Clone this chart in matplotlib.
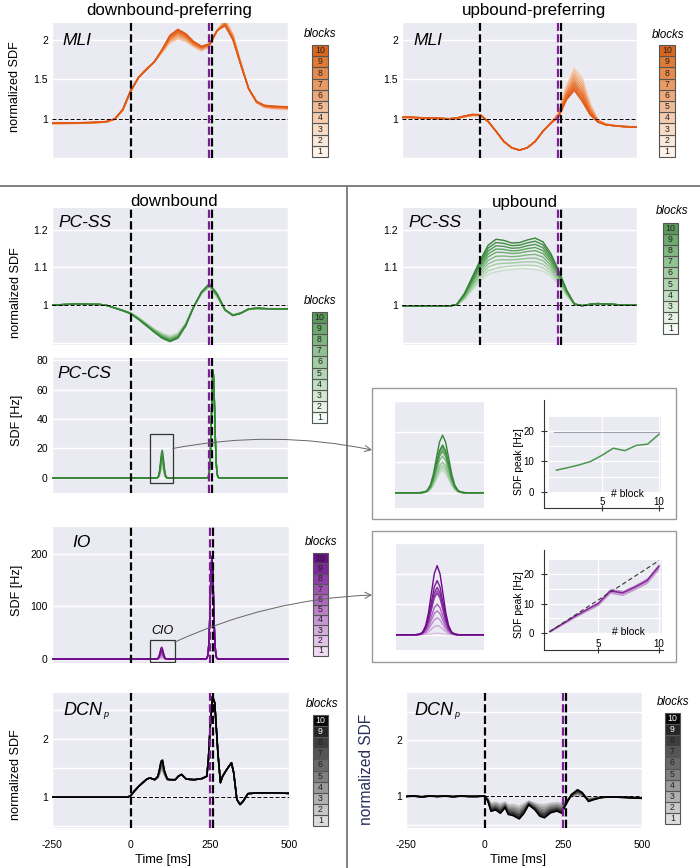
import matplotlib
matplotlib.use("Agg")
import matplotlib.pyplot as plt
from matplotlib.patches import Rectangle, ConnectionPatch
from matplotlib.lines import Line2D

plt.rcParams['font.family'] = ['Liberation Sans', 'DejaVu Sans']

# ------------------------------------------------------------------ data
blocks = [1, 2, 3, 4, 5, 6, 7, 8, 9, 10]
block_mix = [0.0, 0.12, 0.24, 0.36, 0.48, 0.6, 0.7, 0.8, 0.9, 1.0]
time_ticks = [-250, 0, 250, 500]
event_times = [0, 249, 259]

t25 = [-250, -225, -200, -175, -150, -125, -100, -75, -50, -25, 0, 25, 50, 75, 100,
       125, 150, 175, 200, 225, 250, 275, 300, 325, 350, 375, 400, 425, 450, 475, 500]

mli_down_b1 = [0.935, 0.935, 0.936, 0.938, 0.94, 0.943, 0.948, 0.958, 0.99, 1.1, 1.33, 1.53, 1.64,
               1.72, 1.84, 1.96, 2.01, 1.98, 1.91, 1.86, 1.91, 2.12, 2.26, 2.08, 1.72, 1.38, 1.2,
               1.14, 1.125, 1.12, 1.115]
mli_down_b10 = [0.945, 0.945, 0.946, 0.948, 0.95, 0.953, 0.957, 0.965, 1.0, 1.12, 1.36, 1.52, 1.62,
                1.72, 1.88, 2.06, 2.135, 2.08, 1.98, 1.92, 1.95, 2.12, 2.18, 2.0, 1.68, 1.38, 1.22,
                1.17, 1.16, 1.155, 1.15]

mli_up_b1 = [1.01, 1.01, 1.005, 1.0, 1.0, 0.995, 0.99, 0.995, 1.02, 1.035, 1.035, 0.96, 0.84, 0.71,
             0.63, 0.60, 0.63, 0.71, 0.84, 0.95, 1.08, 1.42, 1.64, 1.52, 1.2, 0.99, 0.935, 0.915,
             0.905, 0.9, 0.895]
mli_up_b10 = [1.02, 1.02, 1.015, 1.01, 1.01, 1.005, 1.0, 1.01, 1.035, 1.055, 1.05, 0.965, 0.84, 0.71,
              0.63, 0.60, 0.63, 0.71, 0.84, 0.94, 1.02, 1.24, 1.36, 1.22, 1.05, 0.955, 0.92, 0.91,
              0.90, 0.895, 0.89]

ss_down_b1 = [1.0, 1.001, 1.002, 1.003, 1.003, 1.002, 1.002, 0.999, 0.993, 0.987, 0.98, 0.967, 0.952,
              0.937, 0.925, 0.918, 0.925, 0.952, 0.995, 1.03, 1.048, 1.02, 0.985, 0.975, 0.98, 0.988,
              0.99, 0.99, 0.989, 0.989, 0.989]
ss_down_b10 = [1.0, 1.001, 1.002, 1.003, 1.003, 1.002, 1.002, 0.999, 0.992, 0.985, 0.977, 0.962, 0.945,
               0.928, 0.912, 0.903, 0.912, 0.945, 0.995, 1.035, 1.057, 1.03, 0.988, 0.972, 0.978, 0.99,
               0.992, 0.991, 0.99, 0.99, 0.99]

ss_up_b1 = [0.998, 0.998, 0.998, 0.998, 0.998, 0.998, 0.998, 1.0, 1.015, 1.04, 1.065, 1.082, 1.088,
            1.092, 1.095, 1.097, 1.097, 1.095, 1.09, 1.077, 1.056, 1.026, 1.002, 1.0, 1.002, 1.004,
            1.003, 1.002, 1.0, 1.0, 1.0]
ss_up_b10 = [0.997, 0.997, 0.997, 0.997, 0.997, 0.997, 0.997, 1.002, 1.032, 1.076, 1.12, 1.159, 1.175,
             1.172, 1.165, 1.166, 1.173, 1.178, 1.168, 1.137, 1.092, 1.041, 1.003, 0.998, 1.002, 1.004,
             1.003, 1.002, 1.0, 1.0, 1.0]

dcn_down_t = [-250, -200, -150, -100, -50, -10, 0, 10, 25, 50, 60, 75, 85, 90, 95, 100, 105, 115, 125,
              140, 150, 160, 175, 200, 225, 240, 245, 250, 258, 265, 275, 283, 290, 300, 310, 318,
              325, 335, 345, 355, 370, 400, 450, 500]
dcn_down_b1 = [1.0, 1.0, 1.0, 1.0, 1.0, 1.0, 1.03, 1.1, 1.19, 1.31, 1.33, 1.30, 1.33, 1.38, 1.44, 1.45,
               1.38, 1.30, 1.30, 1.30, 1.36, 1.39, 1.31, 1.30, 1.32, 1.36, 1.65, 2.16, 2.73, 2.62,
               1.76, 1.25, 1.36, 1.45, 1.53, 1.59, 1.42, 0.96, 0.874, 0.93, 1.06, 1.074, 1.074, 1.065]
dcn_down_b10 = [1.0, 1.0, 1.0, 1.0, 1.0, 1.0, 1.03, 1.1, 1.19, 1.31, 1.33, 1.30, 1.36, 1.48, 1.62, 1.64,
                1.47, 1.31, 1.30, 1.30, 1.36, 1.39, 1.31, 1.30, 1.32, 1.36, 1.65, 2.16, 2.73, 2.62,
                1.76, 1.25, 1.36, 1.45, 1.53, 1.59, 1.42, 0.96, 0.874, 0.93, 1.06, 1.074, 1.074, 1.065]

dcn_up_t = [-250, -225, -200, -175, -150, -125, -100, -75, -50, -25, 0, 10, 20, 35, 50, 65, 75, 90, 110,
            125, 140, 160, 175, 190, 210, 230, 245, 255, 275, 295, 310, 330, 345, 370, 400, 450, 500]
dcn_up_b1 = [1.0, 1.0, 1.0, 1.0, 1.0, 1.0, 1.0, 1.0, 1.0, 1.0, 1.0, 0.97, 0.88, 0.90, 0.87, 0.9, 0.85,
             0.86, 0.83, 0.87, 0.92, 0.88, 0.86, 0.85, 0.88, 0.89, 0.88, 0.92, 0.99, 1.02, 1.01, 0.97,
             0.975, 0.99, 0.995, 0.99, 0.98]
dcn_up_b10 = [1.0, 1.01, 0.99, 1.01, 1.0, 1.01, 0.995, 1.01, 1.0, 1.0, 1.01, 0.92, 0.735, 0.76, 0.70,
              0.80, 0.68, 0.66, 0.60, 0.70, 0.85, 0.76, 0.65, 0.62, 0.71, 0.74, 0.70, 0.82, 1.03, 1.12,
              1.07, 0.91, 0.94, 0.98, 0.99, 0.98, 0.965]

# complex-spike / IO peaks
peak_offsets = [-20, -17.5, -15, -12.5, -10, -7.5, -5, -2.5, 0, 2.5, 5, 7.5, 10, 12.5, 15, 17.5, 20]
peak_shape = [0.0, 0.002, 0.011, 0.044, 0.135, 0.325, 0.607, 0.882, 1.0, 0.882, 0.607, 0.325, 0.135,
              0.044, 0.011, 0.002, 0.0]
cs_small_center, cs_big_center, cs_big_amp = 100, 262, 73
io_small_center, io_big_center, io_big_amp = 97, 256, 195
cs_peak_blocks = [7.2, 8.0, 8.9, 10.0, 12.0, 14.3, 13.5, 15.2, 15.6, 18.8]
io_peak_blocks = [0.5, 3.0, 5.5, 7.8, 10.0, 14.3, 13.6, 15.5, 17.7, 22.6]
io_peak_sem = [0.3, 0.4, 0.5, 0.6, 0.7, 0.9, 0.9, 0.9, 1.0, 1.1]
io_ref_x, io_ref_y = [1, 10], [0.5, 24.5]
cs_ref_x, cs_ref_y = [0.8, 10], [19.5, 19.5]

# ------------------------------------------------------------------ colours
orange_leg = ['#fdf3ea', '#fbe9da', '#f8dcc6', '#f4cdb0', '#f0bc97', '#eca97c', '#e99b64', '#e58a4c',
              '#e07a34', '#d9661f']
orange_line = ['#f6cdb0', '#f4bf98', '#f2b082', '#ef9f6a', '#ec8f54', '#ea8042', '#e87333', '#e66926',
               '#e4601b', '#e05812']
green_leg = ['#f5fbf5', '#e6f3e6', '#d3e9d3', '#c2e0c2', '#b2d6b2', '#a2cca2', '#92c292', '#80b680',
             '#6fa96f', '#5a995a']
green_line = ['#c5e0c5', '#b3d6b3', '#a1cca1', '#8fc28f', '#7db77d', '#6bad6b', '#5aa25a', '#4c984c',
              '#418e41', '#368436']
purple_leg = ['#efdcf2', '#e2c4e8', '#d5acdd', '#c896d2', '#bb80c8', '#ac6abd', '#9d54b1', '#8d3ea5',
              '#7d2898', '#6b0f88']
purple_line = ['#dcbfe4', '#cfa6da', '#c28ed0', '#b577c5', '#a862bb', '#9b4db0', '#8e3aa6', '#82289c',
               '#771993', '#6c0a8a']
grey_leg = ['#dddddd', '#c8c8c8', '#b0b0b0', '#999999', '#808080', '#696969', '#555555', '#3e3e3e',
            '#262626', '#080808']
grey_line = ['#c8c8c8', '#b4b4b4', '#9c9c9c', '#868686', '#707070', '#5a5a5a', '#464646', '#323232',
             '#1e1e1e', '#000000']
BG = '#EAEAF2'
PURPLE_EV = '#7d1c96'

# ------------------------------------------------------------------ helpers
W, H = 700, 868
fig = plt.figure(figsize=(7, 8.68), dpi=100)
fig.patch.set_facecolor('white')


def add_ax(x0, y0, x1, y1):
    return fig.add_axes([x0 / W, 1 - y1 / H, (x1 - x0) / W, (y1 - y0) / H])


def ftext(x, y, s, **kw):
    return fig.text(x / W, 1 - y / H, s, **kw)


def style(ax, ylim, yticks, yticklabels, xlabels=False):
    ax.set_facecolor(BG)
    for s in ax.spines.values():
        s.set_visible(False)
    ax.set_xlim(-250, 500)
    ax.set_ylim(*ylim)
    ax.set_xticks(time_ticks)
    ax.set_xticklabels([str(t) for t in time_ticks] if xlabels else [])
    ax.set_yticks(yticks)
    ax.set_yticklabels(yticklabels)
    ax.tick_params(length=0, labelsize=7.5, pad=3)
    ax.tick_params(axis='x', pad=8.5)
    ax.grid(True, color='white', lw=1.0)
    ax.set_axisbelow(True)


def events(ax, hline=True):
    if hline:
        ax.axhline(1, color='black', lw=0.7, dashes=(4.1, 2.1), zorder=4)
    ax.axvline(event_times[0], color='black', lw=1.6, dashes=(3.7, 1.5), zorder=5)
    ax.axvline(event_times[1], color=PURPLE_EV, lw=1.6, dashes=(3.7, 1.5), zorder=5)
    ax.axvline(event_times[2], color='black', lw=1.6, dashes=(3.7, 1.5), zorder=5)


def mix_lines(ax, t, lo, hi, cols, lw=1.0):
    for b, w, c in zip(blocks, block_mix, cols):
        y = [a + w * (z - a) for a, z in zip(lo, hi)]
        ax.plot(t, y, color=c, lw=lw, zorder=3)


def peak_trace(c_small, a_small, c_big, a_big):
    t = [-250] + [c_small + o for o in peak_offsets] + [c_big + o for o in peak_offsets] + [500]
    y = [0] + [a_small * s for s in peak_shape] + [a_big * s for s in peak_shape] + [0]
    return t, y


def legend(x0, y0, x1, y1, cols, tx, ty, white_from=11):
    ax = add_ax(x0, y0, x1, y1)
    bars = ax.barh(blocks, [1] * 10, height=1, left=0, color=cols, edgecolor='#555555', linewidth=0.8)
    for p in bars:
        p.set_clip_on(False)
    ax.set_xlim(0, 1)
    ax.set_ylim(0.5, 10.5)
    ax.axis('off')
    for b in blocks:
        ax.text(0.5, b, str(b), ha='center', va='center', fontsize=6.3,
                color='white' if b >= white_from else '#222222')
    ftext(tx, ty, 'blocks', style='italic', fontsize=8.3, ha='center', va='baseline')


def ylabel(x, y, s, **kw):
    kw.setdefault('fontsize', 9.1)
    ftext(x, y, s, rotation=90, ha='center', va='center', **kw)


def dcn_label(x, y):
    ftext(x, y, 'DCN', style='italic', fontsize=13, va='baseline')
    ftext(x + 40.5, y + 2, 'p', style='italic', fontsize=6.5, va='baseline')


# ------------------------------------------------------------------ MLI
ax = add_ax(52, 23, 288, 158)
style(ax, (0.5, 2.215), [0.5, 1, 1.5, 2], ['', '1', '1.5', '2'])
mix_lines(ax, t25, mli_down_b1, mli_down_b10, orange_line)
events(ax)
ftext(62, 45, 'MLI', style='italic', fontsize=12.5, va='baseline')
legend(312, 45, 328, 157, orange_leg, 320, 37)
ylabel(15, 87, 'normalized SDF')
ftext(169, 14.5, 'downbound-preferring', fontsize=12.2, ha='center', va='baseline')

ax = add_ax(402, 23, 637, 158)
style(ax, (0.5, 2.215), [0.5, 1, 1.5, 2], ['', '1', '1.5', '2'])
mix_lines(ax, t25, mli_up_b1, mli_up_b10, orange_line)
events(ax)
ftext(413, 45, 'MLI', style='italic', fontsize=12.5, va='baseline')
legend(659, 45, 675, 157, orange_leg, 668, 38)
ftext(534, 14.5, 'upbound-preferring', fontsize=12.2, ha='center', va='baseline')

# separators
fig.add_artist(Line2D([0, 1], [1 - 186 / H] * 2, transform=fig.transFigure, color='#777777', lw=1.3))
fig.add_artist(Line2D([347 / W] * 2, [1 - 186 / H, 0], transform=fig.transFigure, color='#777777', lw=1.3))

ftext(174, 206.5, 'downbound', fontsize=12.2, ha='center', va='baseline')
ftext(525, 206.5, 'upbound', fontsize=12.2, ha='center', va='baseline')

# ------------------------------------------------------------------ PC-SS
ax = add_ax(52, 208, 288, 345)
style(ax, (0.894, 1.258), [0.9, 1, 1.1, 1.2], ['', '1', '1.1', '1.2'])
mix_lines(ax, t25, ss_down_b1, ss_down_b10, green_line)
events(ax)
ftext(58, 227, 'PC-SS', style='italic', fontsize=12.5, va='baseline')
legend(312, 312, 327, 423, green_leg, 320, 304)
ylabel(16, 293, 'normalized SDF')

ax = add_ax(402, 208, 637, 345)
style(ax, (0.894, 1.258), [0.9, 1, 1.1, 1.2], ['', '1', '1.1', '1.2'])
mix_lines(ax, t25, ss_up_b1, ss_up_b10, green_line)
events(ax)
ftext(408, 227, 'PC-SS', style='italic', fontsize=12.5, va='baseline')
legend(663, 223, 678, 334, green_leg, 672, 214)

# ------------------------------------------------------------------ PC-CS
ax_cs = add_ax(52, 358, 288, 493)
style(ax_cs, (-10.2, 81.4), [0, 20, 40, 60, 80], ['0', '20', '40', '60', '80'])
for b, c in zip(blocks, green_line):
    t, y = peak_trace(cs_small_center, cs_peak_blocks[b - 1], cs_big_center, cs_big_amp)
    ax_cs.plot(t, y, color=c, lw=1.0, zorder=3)
events(ax_cs, hline=False)
ax_cs.add_patch(Rectangle((61, -3.5), 73, 33.5, fill=False, edgecolor='#333333', lw=0.9, zorder=6))
ftext(57, 378, 'PC-CS', style='italic', fontsize=12.5, va='baseline')
ylabel(17, 420, 'SDF [Hz]')

# ------------------------------------------------------------------ IO
ax_io = add_ax(52, 527, 289, 663)
style(ax_io, (-7.6, 251), [0, 100, 200], ['0', '100', '200'])
for b, c in zip(blocks, purple_line):
    t, y = peak_trace(io_small_center, io_peak_blocks[b - 1], io_big_center, io_big_amp)
    ax_io.plot(t, y, color=c, lw=1.0, zorder=3)
events(ax_io, hline=False)
ax_io.add_patch(Rectangle((61, -5.7), 77, 41.7, fill=False, edgecolor='#333333', lw=0.9, zorder=6))
ax_io.text(100, 42, 'CIO', style='italic', fontsize=9, ha='center', va='bottom')
ftext(72, 547, 'IO', style='italic', fontsize=12.5, va='baseline')
legend(313, 553, 328, 656, purple_leg, 321, 545)
ylabel(17, 590, 'SDF [Hz]')

# ------------------------------------------------------------------ DCN
ax = add_ax(52, 693, 289, 828)
style(ax, (0.47, 2.79), [0.5, 1, 1.5, 2, 2.5], ['', '1', '', '2', ''], xlabels=True)
mix_lines(ax, dcn_down_t, dcn_down_b1, dcn_down_b10, grey_line, lw=1.1)
events(ax)
dcn_label(63, 715)
legend(313, 715, 328, 826, grey_leg, 322, 707, white_from=9)
ylabel(16, 775, 'normalized SDF')
ftext(163, 860, 'Time [ms]', fontsize=9.3, ha='center', va='center')

ax = add_ax(406, 693, 642, 828)
style(ax, (0.44, 2.835), [0.5, 1, 1.5, 2, 2.5], ['', '1', '', '2', ''], xlabels=True)
mix_lines(ax, dcn_up_t, dcn_up_b1, dcn_up_b10, grey_line, lw=1.1)
events(ax)
dcn_label(414, 715)
legend(665, 713, 680, 824, grey_leg, 673, 705, white_from=9)
ylabel(366, 769, 'normalized SDF', fontsize=11.2, color='#2b2f5c')
ftext(518, 860, 'Time [ms]', fontsize=9.3, ha='center', va='center')

# ------------------------------------------------------------------ inset boxes
for (y0, y1) in [(388, 519), (531, 662)]:
    fig.add_artist(Rectangle((372 / W, 1 - y1 / H), (676 - 372) / W, (y1 - y0) / H,
                             transform=fig.transFigure, fill=False, edgecolor='#999999', lw=1.0))


def zoom_axes(rect, xlim, cols, amps, center):
    ax = add_ax(*rect)
    ax.set_facecolor(BG)
    for s in ax.spines.values():
        s.set_visible(False)
    ax.set_xlim(*xlim)
    ax.set_ylim(-5, 30)
    ax.set_xticks([])
    ax.set_yticks([0, 10, 20, 30])
    ax.set_yticklabels([])
    ax.tick_params(length=0)
    ax.grid(True, axis='y', color='white', lw=1.0)
    ax.set_axisbelow(True)
    for b, c in zip(blocks, cols):
        t = [xlim[0]] + [center + o for o in peak_offsets] + [xlim[1]]
        y = [0] + [amps[b - 1] * s for s in peak_shape] + [0]
        ax.plot(t, y, color=c, lw=1.0)
    return ax


zoom_axes((395, 401, 484, 508), (61, 134), green_line, cs_peak_blocks, cs_small_center)
zoom_axes((396, 543, 484, 650), (61, 138), purple_line, io_peak_blocks, io_small_center)


def peak_axes(rect, xlim, ylim, xb, yb, left_off, bottom_off):
    ax = add_ax(*rect)
    ax.set_facecolor(BG)
    ax.set_xlim(*xlim)
    ax.set_ylim(*ylim)
    ax.spines['top'].set_visible(False)
    ax.spines['right'].set_visible(False)
    ax.spines['left'].set_position(('outward', left_off))
    ax.spines['bottom'].set_position(('outward', bottom_off))
    ax.spines['left'].set_bounds(*yb)
    ax.spines['bottom'].set_bounds(*xb)
    for s in ('left', 'bottom'):
        ax.spines[s].set_color('#333333')
        ax.spines[s].set_linewidth(0.8)
    ax.set_xticks([5, 10])
    ax.set_yticks([0, 10, 20])
    ax.set_yticks([5, 15], minor=True)
    ax.tick_params(which='major', direction='inout', length=4.3, width=0.8, color='#333333',
                   labelsize=7.0)
    ax.tick_params(axis='x', pad=-10.0)
    ax.tick_params(axis='y', pad=5)
    ax.tick_params(which='minor', length=0)
    ax.grid(True, which='both', color='white', lw=0.9)
    ax.set_axisbelow(True)
    return ax


ax = peak_axes((549, 417, 661, 493), (0.35, 10.18), (-0.2, 24.4), (-0.09, 10.36), (-5.05, 29.9), 3.6, 10.8)
ax.plot(cs_ref_x, cs_ref_y, color='#a0a0ae', lw=0.8)
ax.plot(blocks, cs_peak_blocks, color='#4a964a', lw=1.1)
ftext(519, 462, 'SDF peak [Hz]', rotation=90, ha='center', va='center', fontsize=7.4)
ftext(627, 494, '# block', ha='center', va='center', fontsize=7.5)

ax = peak_axes((549, 560, 662, 634), (0.95, 10.25), (-0.3, 24.7), (0.54, 10.33), (-5.7, 28.0), 3.6, 11.5)
lo = [m - s for m, s in zip(io_peak_blocks, io_peak_sem)]
hi = [m + s for m, s in zip(io_peak_blocks, io_peak_sem)]
ax.fill_between(blocks, lo, hi, color='#a45ab4', alpha=0.55, lw=0)
ax.plot(blocks, io_peak_blocks, color='#86229a', lw=1.1)
ax.plot(io_ref_x, io_ref_y, color='#333333', lw=0.8, dashes=(4, 2.5))
ftext(519, 605, 'SDF peak [Hz]', rotation=90, ha='center', va='center', fontsize=7.4)
ftext(628, 632, '# block', ha='center', va='center', fontsize=7.5)

# ------------------------------------------------------------------ connectors
for src_ax, xy, end in [(ax_cs, (134, 20), (372, 450)), (ax_io, (138, 32), (372, 595))]:
    con = ConnectionPatch(xyA=xy, coordsA=src_ax.transData,
                          xyB=(end[0] / W, 1 - end[1] / H), coordsB=fig.transFigure,
                          arrowstyle='->', connectionstyle='arc3,rad=-0.1',
                          color='#666666', lw=0.7, mutation_scale=11, zorder=10)
    fig.add_artist(con)

fig.savefig('out.png', dpi=100)
